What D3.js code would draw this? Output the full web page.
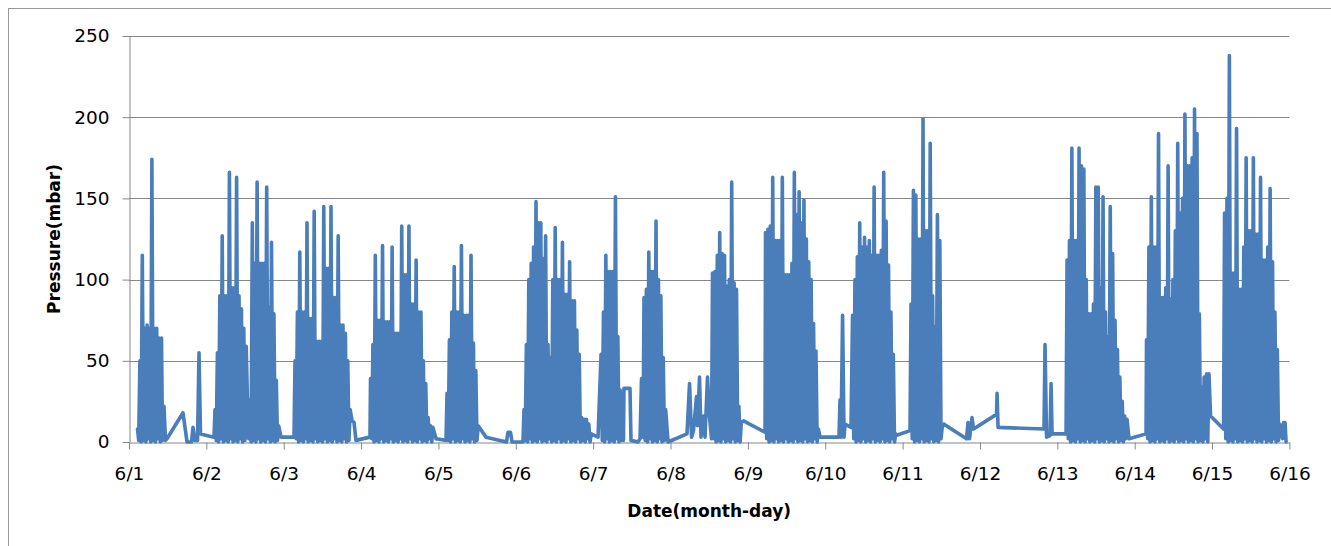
<!DOCTYPE html>
<html>
<head>
<meta charset="utf-8">
<script src="https://cdn.jsdelivr.net/npm/d3@7"></script>
<style>
  body { margin: 0; background: #fff; }
  text { font-family: "DejaVu Sans", Verdana, sans-serif; fill: #000; }
</style>
</head>
<body>
<svg id="chart" width="1331" height="546"></svg>
<script>
// days are counted from 6/1 00:00
const dayZero = new Date(2013, 5, 1);
const dayCount = 15;
const yTickValues = [0, 50, 100, 150, 200, 250];

// isolated readings between the pumping bursts: [day, mbar]
const quietReadings = [
  [0.433, 1], [0.452, 22], [0.472, 1], [0.491, 2], [0.698, 18], [0.750, 0], [0.808, 0],
  [0.827, 9], [0.853, 1], [0.886, 1], [0.905, 55], [0.924, 5], [1.099, 3],
  [1.965, 3], [2.133, 3],
  [2.883, 13], [2.909, 12], [2.934, 1], [3.115, 3],
  [3.969, 2], [4.098, 1],
  [4.615, 3], [4.880, 0], [4.899, 6], [4.932, 6], [4.951, 0], [5.093, 0],
  [6.063, 3],
  [6.392, 1], [6.398, 33], [6.476, 33], [6.489, 1], [6.580, 0], [6.606, 2], [6.625, 39], [6.645, 3],
  [6.968, 0], [7.213, 5], [7.246, 36], [7.272, 3], [7.297, 7], [7.336, 28], [7.349, 10],
  [7.375, 40], [7.394, 3], [7.427, 16], [7.446, 3], [7.478, 40], [7.504, 16], [7.530, 2],
  [7.944, 13], [8.222, 6],
  [8.933, 3], [9.178, 3], [9.191, 26], [9.204, 3], [9.224, 78], [9.243, 3], [9.256, 11], [9.333, 9],
  [9.915, 4], [10.096, 7],
  [10.536, 11], [10.826, 2], [10.846, 12], [10.865, 2], [10.897, 15], [10.917, 8],
  [11.214, 17], [11.221, 30], [11.234, 9], [11.828, 8], [11.841, 60], [11.861, 3],
  [11.906, 4], [11.919, 36], [11.932, 5], [12.113, 5],
  [12.927, 2], [13.147, 5],
  [13.981, 16], [14.149, 8],
  [14.912, 2], [14.925, 12], [14.944, 12], [14.957, 0]
];

// bursts sampled at an even rate: [first day, last day, readings]
const burst0601 = [0.110, 0.420, [8, 1, 50, 0, 115, 1, 70, 0, 72, 2, 70, 0, 174, 1, 70, 0, 70, 2, 64, 0, 64]];
const burst0602a = [1.112, 1.515, [20, 1, 55, 0, 90, 2, 127, 0, 90, 1, 90, 0, 166, 2, 95, 0, 95, 1, 163, 0, 90, 2, 82, 0, 70, 1, 59]];
const burst0602b = [1.532, 1.935, [24, 2, 26, 0, 135, 1, 110, 0, 160, 2, 110, 0, 110, 1, 110, 0, 157, 2, 83, 0, 123, 1, 79, 0, 38, 1, 10]];
const burst0603 = [2.146, 2.859, [50, 2, 80, 0, 117, 1, 80, 0, 80, 2, 135, 0, 76, 1, 76, 0, 142, 2, 62, 0, 62, 1, 62, 0,
  145, 2, 107, 0, 107, 1, 145, 0, 89, 2, 89, 0, 127, 1, 72, 0, 72, 2, 67, 0, 50, 1, 20]];
const burst0604 = [3.122, 3.929, [39, 2, 60, 0, 115, 1, 75, 0, 75, 2, 121, 0, 74, 1, 74, 0, 74, 2, 120, 0, 67, 1, 67, 0,
  67, 2, 133, 0, 103, 1, 103, 0, 133, 2, 85, 0, 85, 1, 112, 0, 80, 2, 80, 0, 50, 1, 36, 0, 15, 2, 10, 0, 9]];
const burst0605 = [4.111, 4.514, [30, 1, 63, 0, 80, 2, 108, 0, 80, 1, 80, 0, 121, 2, 78, 0, 78, 1, 78, 0, 115, 2, 61, 0, 44, 1, 10]];
const burst0606 = [5.106, 5.975, [20, 1, 60, 0, 100, 2, 110, 0, 120, 1, 148, 0, 135, 2, 135, 0, 113, 1, 127, 0, 60, 2, 52, 0,
  100, 1, 132, 0, 100, 2, 100, 0, 123, 1, 91, 0, 91, 2, 111, 0, 87, 1, 87, 0, 69, 2, 54, 0, 15, 1, 14, 0, 14, 2, 11, 0, 5]];
const burst0607a = [6.102, 6.381, [54, 1, 80, 0, 115, 2, 105, 0, 105, 1, 105, 0, 151, 2, 65, 0, 32, 1, 22]];
const burst0607b = [6.657, 6.937, [89, 1, 94, 0, 117, 2, 105, 0, 105, 1, 136, 0, 100, 2, 90, 0, 52, 1, 20]];
const burst0608 = [7.543, 7.915, [104, 2, 105, 0, 115, 1, 129, 0, 116, 2, 115, 0, 96, 1, 100, 0, 160, 2, 98, 0, 94, 1, 22, 0, 12]];
const burst0609 = [8.228, 8.911, [129, 2, 131, 0, 133, 1, 163, 0, 124, 2, 124, 0, 124, 1, 163, 0, 103, 2, 103, 0, 103, 1, 110, 0,
  166, 2, 140, 0, 154, 1, 135, 0, 149, 2, 125, 0, 111, 1, 100, 0, 73, 2, 56, 0, 8]];
const burst0610 = [9.353, 9.911, [78, 2, 100, 0, 114, 1, 135, 0, 120, 2, 126, 0, 120, 1, 124, 0, 115, 2, 157, 0, 115, 1, 115, 0,
  118, 2, 166, 0, 136, 1, 109, 0, 80, 2, 54, 0, 5]];
const burst0611 = [10.109, 10.512, [85, 2, 155, 0, 152, 1, 125, 0, 125, 2, 199, 0, 130, 1, 130, 0, 184, 2, 90, 0, 71, 1, 140, 0, 124, 2, 9]];
const burst0613 = [12.126, 12.901, [112, 2, 124, 0, 181, 1, 124, 0, 124, 2, 181, 0, 170, 1, 168, 0, 100, 2, 79, 0, 79, 1, 85, 0,
  157, 2, 157, 0, 95, 1, 151, 0, 80, 2, 65, 0, 145, 1, 116, 0, 75, 2, 57, 0, 40, 1, 25, 0, 16, 2, 14]];
const burst0614 = [13.153, 13.960, [63, 2, 120, 0, 151, 1, 120, 0, 120, 2, 190, 0, 89, 1, 89, 0, 95, 2, 170, 0, 88, 1, 100, 0,
  130, 2, 184, 0, 141, 1, 150, 0, 202, 2, 170, 0, 170, 1, 175, 0, 205, 2, 190, 0, 79, 1, 34, 0, 40, 2, 42, 0, 42]];
const burst0615 = [14.162, 14.875, [141, 2, 150, 0, 238, 1, 104, 0, 104, 2, 193, 0, 94, 1, 94, 0, 120, 2, 175, 0, 130, 1, 130, 0,
  175, 2, 128, 0, 128, 1, 163, 0, 112, 2, 112, 0, 120, 1, 156, 0, 111, 2, 80, 0, 57, 1, 11]];

const bursts = [burst0601, burst0602a, burst0602b, burst0603, burst0604, burst0605, burst0606,
  burst0607a, burst0607b, burst0608, burst0609, burst0610, burst0611, burst0613, burst0614, burst0615];

const svg = d3.select('#chart');

const plot = { left: 129, right: 1289.4, top: 36, bottom: 442 };

const asDate = t => new Date(dayZero.getTime() + t * 86400000);

const x = d3.scaleTime()
  .domain([dayZero, d3.timeDay.offset(dayZero, dayCount)])
  .range([plot.left, plot.right]);

const y = d3.scaleLinear()
  .domain([0, 250])
  .range([plot.bottom, plot.top]);

// chart frame
svg.append('rect')
  .attr('x', 8.5).attr('y', 8.5)
  .attr('width', 1340).attr('height', 560)
  .attr('fill', 'none')
  .attr('stroke', '#9a9a9a');

// horizontal gridlines
svg.append('g')
  .selectAll('line')
  .data(yTickValues.filter(v => v > 0))
  .enter()
  .append('line')
  .attr('x1', plot.left).attr('x2', plot.right)
  .attr('y1', d => Math.round(y(d)) + 0.5)
  .attr('y2', d => Math.round(y(d)) + 0.5)
  .attr('stroke', '#878787');

// y axis
const yAxis = svg.append('g')
  .attr('transform', `translate(${plot.left + 0.5},0)`)
  .call(d3.axisLeft(y).tickValues(yTickValues).tickSize(7).tickSizeOuter(0).tickPadding(13));
yAxis.selectAll('path, line').attr('stroke', '#878787');
yAxis.selectAll('text').style('font-size', '18.5px').attr('fill', '#000');

// x axis
const xAxis = svg.append('g')
  .attr('transform', `translate(0,${plot.bottom + 0.5})`)
  .call(d3.axisBottom(x)
    .ticks(d3.timeDay.every(1))
    .tickFormat(d3.timeFormat('%-m/%-d'))
    .tickSize(7).tickSizeOuter(0).tickPadding(17));
xAxis.selectAll('path, line').attr('stroke', '#878787');
xAxis.selectAll('text').style('font-size', '18.5px').attr('fill', '#000');

// series
const points = quietReadings.map(([t, v]) => ({ t, v }));
bursts.forEach(([t0, t1, vals]) => {
  const step = (t1 - t0) / (vals.length - 1);
  vals.forEach((v, i) => points.push({ t: t0 + i * step, v }));
});
points.sort((a, b) => a.t - b.t);

const line = d3.line()
  .x(d => x(asDate(d.t)))
  .y(d => y(d.v));

svg.append('path')
  .datum(points)
  .attr('d', line)
  .attr('fill', 'none')
  .attr('stroke', '#4a7ebb')
  .attr('stroke-width', 3.6)
  .attr('stroke-linejoin', 'round')
  .attr('stroke-linecap', 'round');

// axis titles
svg.append('text')
  .attr('x', (plot.left + plot.right) / 2)
  .attr('y', 517)
  .attr('text-anchor', 'middle')
  .style('font-size', '17px')
  .style('font-weight', 'bold')
  .text('Date(month-day)');

svg.append('text')
  .attr('transform', `translate(59.5,${(plot.top + plot.bottom) / 2}) rotate(-90)`)
  .attr('text-anchor', 'middle')
  .style('font-size', '17px')
  .style('font-weight', 'bold')
  .text('Pressure(mbar)');
</script>
</body>
</html>
